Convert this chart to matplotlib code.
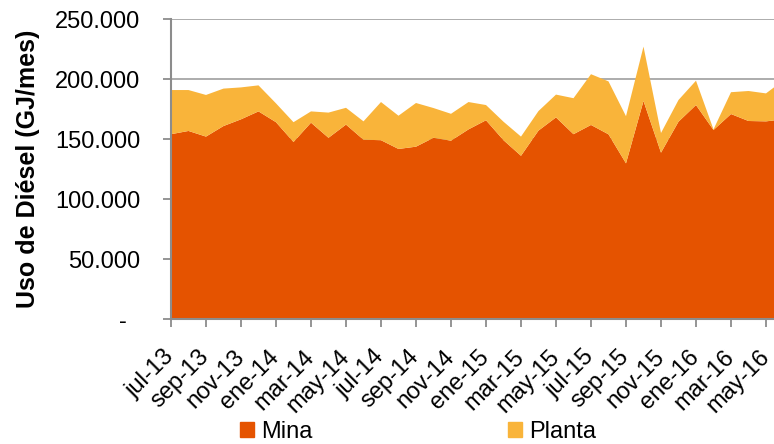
import matplotlib.pyplot as plt
import matplotlib.transforms as mtransforms
import numpy as np

# consumo mensual de diésel (GJ/mes), jul-13 a jun-16
mina = [154000, 156700, 152000, 160800, 166400, 173000, 164000, 147500, 163600,
        151000, 162000, 149400, 149000, 141700, 143600, 151000, 148600, 158000,
        165600, 149000, 136000, 157000, 168000, 154000, 161700, 153900, 129700,
        181700, 138600, 164400, 178300, 157500, 170800, 165000, 164700, 166400]
planta = [36800, 34100, 34700, 31200, 26600, 21700, 15700, 16500, 9400,
          21000, 14000, 15300, 31800, 27700, 36400, 24800, 22400, 22800,
          12700, 15400, 16000, 16300, 19000, 30000, 42300, 44100, 39300,
          45300, 16400, 18100, 20300, 500, 18200, 25000, 23300, 32600]

meses_abr = ['ene', 'feb', 'mar', 'abr', 'may', 'jun',
             'jul', 'ago', 'sep', 'oct', 'nov', 'dic']
meses = []
for k in range(len(mina)):
    m = (6 + k) % 12
    a = 13 + (6 + k) // 12
    meses.append('%s-%d' % (meses_abr[m], a))

yticks = [0, 50000, 100000, 150000, 200000, 250000]
ylabels = ['-  ', '50.000', '100.000', '150.000', '200.000', '250.000']

plt.rcParams['font.family'] = ['Liberation Sans', 'DejaVu Sans']

fig = plt.figure(figsize=(7.74, 4.44), dpi=100)
ax = fig.add_axes([171/774, 1 - 319/444, 1 - 171/774, 300/444])

x = np.arange(len(mina))
c_mina = '#E55300'
c_planta = '#F9B43A'
ax.stackplot(x, mina, planta, colors=[c_mina, c_planta], linewidth=0, zorder=3)

ax.set_xlim(0, 603/17.5)
ax.set_ylim(0, 250000)
ax.set_yticks(yticks)
ax.set_yticklabels(ylabels)
ax.set_xticks(x[::2])
ax.set_xticklabels(meses[::2], rotation=45, ha='right', va='center',
                   rotation_mode='anchor')
# etiquetas del eje x un poco a la derecha
dx = mtransforms.ScaledTranslation(4/100, 0, fig.dpi_scale_trans)
for lab in ax.get_xticklabels():
    lab.set_transform(lab.get_transform() + dx)

ax.yaxis.grid(True, color='#A6A6A6', linewidth=1.3, zorder=0)
ax.set_axisbelow(True)
for s in ['top', 'right']:
    ax.spines[s].set_visible(False)
for s in ['left', 'bottom']:
    ax.spines[s].set_color('#8C8C8C')
    ax.spines[s].set_linewidth(1.5)
    ax.spines[s].set_zorder(4)
ax.tick_params(axis='y', length=6, width=1.3, color='#8C8C8C', pad=16,
               labelsize=17)
ax.tick_params(axis='x', length=6, width=1.3, color='#8C8C8C', pad=19,
               labelsize=17)

ax.set_ylabel('Uso de Diésel (GJ/mes)', fontsize=18, fontweight='bold')
ax.yaxis.set_label_coords(-131/603, 0.5)

h1 = plt.Rectangle((0, 0), 1, 1, color=c_mina)
h2 = plt.Rectangle((0, 0), 1, 1, color=c_planta)
fig.legend([h1, h2], ['Mina', 'Planta'], loc='center',
           bbox_to_anchor=(418/774, 1 - 432/444), ncol=2, frameon=False,
           fontsize=17, handlelength=0.6, handleheight=0.6,
           handletextpad=0.3, columnspacing=8.3, borderpad=0)

fig.savefig('out.png', dpi=100)
